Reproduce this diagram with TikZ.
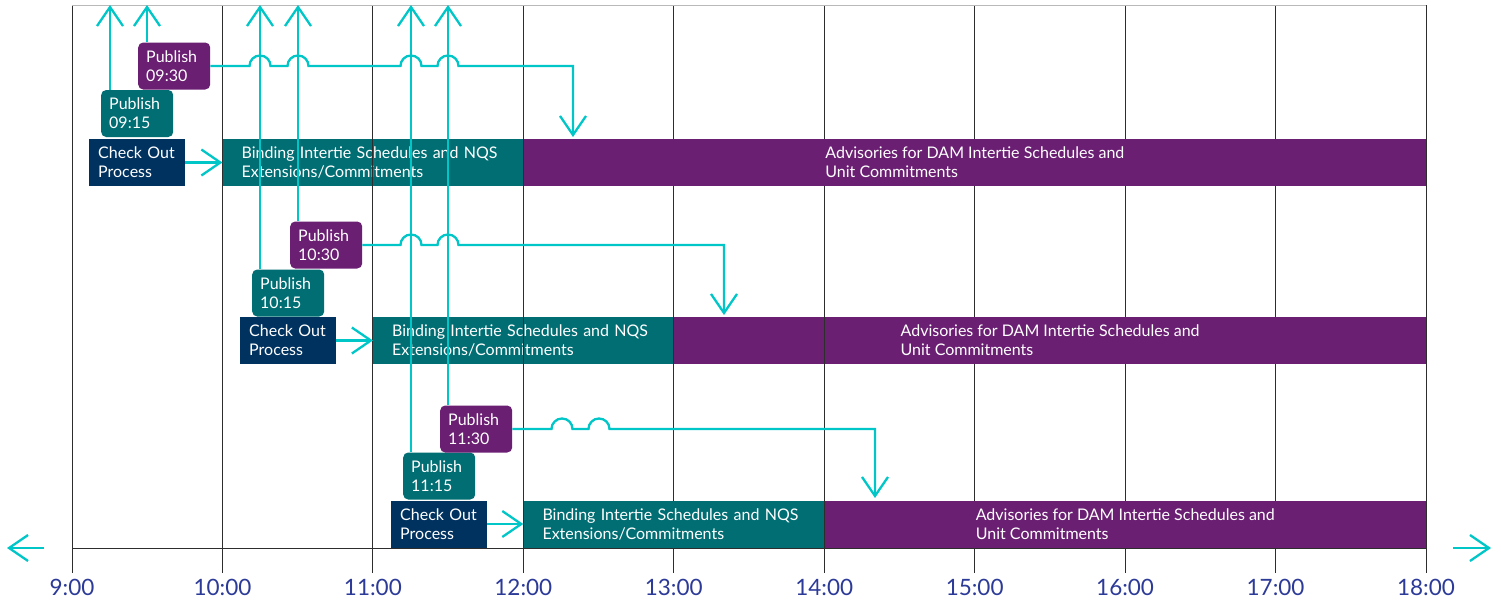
\documentclass[tikz,border=0pt]{standalone}
\usepackage{fontspec}
\setmainfont{Lato}
\usetikzlibrary{arrows.meta,calc}

\definecolor{bindteal}{RGB}{0,110,115}
\definecolor{advpurple}{RGB}{106,31,114}
\definecolor{checknavy}{RGB}{0,50,96}
\definecolor{flowcyan}{RGB}{0,198,200}
\definecolor{hourblue}{RGB}{44,58,152}
\definecolor{gridgray}{RGB}{45,45,45}

\begin{document}
\begin{tikzpicture}[x=1pt,y=-1pt,
  gridline/.style={draw=gridgray, line width=0.9pt},
  conn/.style={draw=flowcyan, line width=2.3pt},
  cyanarrow/.style={-{Straight Barb[length=19pt,width=26pt]}},
  bar/.style={anchor=west, minimum height=47pt, inner ysep=0pt, text=white,
    font=\fontsize{16}{19}\selectfont, align=left},
  bindbar/.style={bar, fill=bindteal, inner xsep=19pt},
  advbar/.style={bar, fill=advpurple, inner xsep=0pt},
  checkbox/.style={bar, fill=checknavy, inner xsep=9pt, text width=78pt},
  pubbox/.style={bar, rounded corners=5pt, inner xsep=8pt, text width=56pt},
  pubteal/.style={pubbox, fill=bindteal},
  pubpurple/.style={pubbox, fill=advpurple},
  hourlabel/.style={anchor=base, text=hourblue, font=\fontsize{22.5}{24}\selectfont}]

\useasboundingbox[fill=white] (0,0) rectangle (1501,600);

% hour grid
\foreach \i in {0,...,9}{
  \draw[gridline] ({72+150.444*\i},5) -- ({72+150.444*\i},573);
}
\draw[draw=gray!55, line width=0.9pt] (72,5) -- (1426,5);
\draw[draw=gridgray, line width=1pt] (72,548) -- (1426,548);

% hour labels
\foreach \i/\t in {0/9:00,1/10:00,2/11:00,3/12:00,4/13:00,5/14:00,6/15:00,7/16:00,8/17:00,9/18:00}{
  \node[hourlabel] (h\i) at ({72+150.444*\i},595) {\t};
}

% open-ended time axis
\coordinate (axl0) at (44,548);
\coordinate (axl1) at (7,548);
\coordinate (axr0) at (1453,548);
\coordinate (axr1) at (1491,548);
\draw[conn,cyanarrow] (axl0) -- (axl1);
\draw[conn,cyanarrow] (axr0) -- (axr1);

% ---------- row 1 ----------
\node[bindbar, text width=263pt] (bind1) at (222.4,162.5)
  {Binding Intertie Schedules and NQS\\Extensions/Commitments};
\node[advbar, minimum width=902.7pt] (adv1) at (523.3,162.5)
  {Advisories for DAM Intertie Schedules and\\Unit Commitments};
\node[checkbox] (chk1) at (89,162.5) {Check Out\\Process};
\node[pubteal] (p915) at (101,113.5) {Publish\\09:15};
\node[pubpurple] (p930) at (138,66) {Publish\\09:30};

% ---------- row 2 ----------
\node[bindbar, text width=262.9pt] (bind2) at (372.9,340.5)
  {Binding Intertie Schedules and NQS\\Extensions/Commitments};
\node[advbar, minimum width=752.2pt] (adv2) at (673.8,340.5)
  {Advisories for DAM Intertie Schedules and\\Unit Commitments};
\node[checkbox] (chk2) at (240,340.5) {Check Out\\Process};
\node[pubteal] (p1015) at (252,293) {Publish\\10:15};
\node[pubpurple] (p1030) at (290,245) {Publish\\10:30};

% ---------- row 3 ----------
\node[bindbar, text width=262.9pt] (bind3) at (523.3,524)
  {Binding Intertie Schedules and NQS\\Extensions/Commitments};
\node[advbar, minimum width=601.8pt] (adv3) at (824.2,524)
  {Advisories for DAM Intertie Schedules and\\Unit Commitments};
\node[checkbox] (chk3) at (391,524) {Check Out\\Process};
\node[pubteal] (p1115) at (403,476) {Publish\\11:15};
\node[pubpurple] (p1130) at (440,429) {Publish\\11:30};

% hour lines that stay visible across the bars
\draw[gridline] (222.4,139) -- (222.4,186);
\draw[gridline] (372.9,139) -- (372.9,186);
\draw[gridline] (523.3,139) -- (523.3,186);
\draw[gridline] (372.9,317) -- (372.9,364);
\draw[gridline] (523.3,317) -- (523.3,364);
\draw[gridline] (673.8,317) -- (673.8,364);
\draw[gridline] (824.2,317) -- (824.2,364);
\draw[gridline] (523.3,500) -- (523.3,548);
\draw[gridline] (824.2,500) -- (824.2,548);
\draw[gridline] (1426,139) -- (1426,186);
\draw[gridline] (1426,317) -- (1426,364);
\draw[gridline] (1426,500) -- (1426,548);

% check-out feeds the binding run
\draw[conn,cyanarrow] (chk1.east) -- (bind1.west);
\draw[conn,cyanarrow] (chk2.east) -- (bind2.west);
\draw[conn,cyanarrow] (chk3.east) -- (bind3.west);

% publications go out to the top edge
\coordinate (top) at (0,5);
\coordinate (v915) at ([xshift=9pt]p915.north west);
\coordinate (v930) at ([xshift=9pt]p930.north west);
\coordinate (v1015) at ([xshift=8pt]p1015.north west);
\coordinate (v1030) at ([xshift=8pt]p1030.north west);
\coordinate (v1115) at ([xshift=8pt]p1115.north west);
\coordinate (v1130) at ([xshift=8pt]p1130.north west);
\foreach \v in {v915,v930,v1015,v1030,v1115,v1130}{
  \draw[conn,cyanarrow] (\v) -- (\v |- top);
}

% advisory publications, hopping over the crossing lines
\coordinate (d1) at (573,137);
\coordinate (d2) at (724,315);
\coordinate (d3) at (875,498);

\draw[conn,cyanarrow,line join=miter] (p930.east)
  -- (249.5,66) arc[start angle=180,end angle=0,radius=10.5pt]
  -- (287.5,66) arc[start angle=180,end angle=0,radius=10.5pt]
  -- (400.5,66) arc[start angle=180,end angle=0,radius=10.5pt]
  -- (437.5,66) arc[start angle=180,end angle=0,radius=10.5pt]
  -- (d1 |- p930.east) -- (d1);

\draw[conn,cyanarrow,line join=miter] (p1030.east)
  -- (400.5,245) arc[start angle=180,end angle=0,radius=10.5pt]
  -- (437.5,245) arc[start angle=180,end angle=0,radius=10.5pt]
  -- (d2 |- p1030.east) -- (d2);

\draw[conn,cyanarrow,line join=miter] (p1130.east)
  -- (551.5,429) arc[start angle=180,end angle=0,radius=10.5pt]
  -- (588.5,429) arc[start angle=180,end angle=0,radius=10.5pt]
  -- (d3 |- p1130.east) -- (d3);

\end{tikzpicture}
\end{document}
